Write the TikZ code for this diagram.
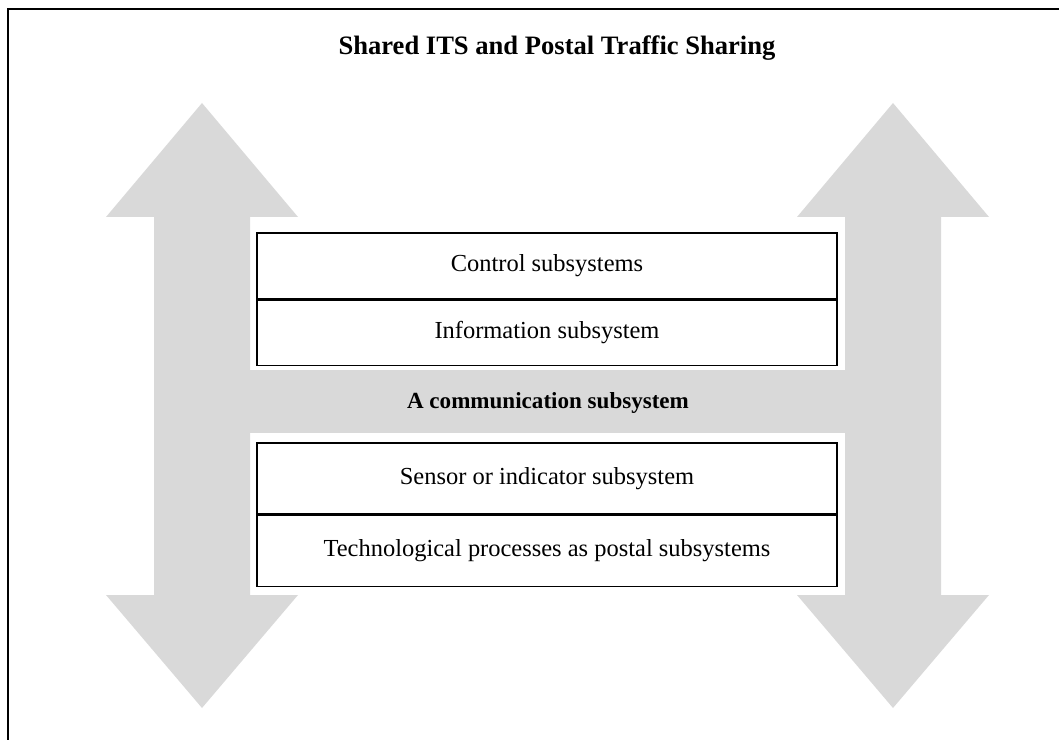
\documentclass[tikz,border=0pt]{standalone}
\usepackage{fontspec}
\setmainfont{Liberation Serif}
\usetikzlibrary{positioning}
\definecolor{ArrowGray}{HTML}{D9D9D9}
\definecolor{Ink}{HTML}{000000}
\begin{document}
\begin{tikzpicture}[x=0.025cm,y=-0.025cm,font=\fontsize{17.4}{20}\selectfont,text=Ink,row/.style={draw=Ink,fill=white,line width=0.9pt,minimum width=14.5cm,inner sep=0pt,align=center},band/.style={fill=ArrowGray,draw=none}]
\useasboundingbox (0,0) rectangle (1059,740);
\draw[Ink,line width=1.5pt] (8,745) -- (8,9) -- (1065,9);
\node[font=\fontsize{18.9}{22}\selectfont\bfseries] (title) at (557,48){Shared ITS and Postal Traffic Sharing};
% two double arrows and the cross band
\foreach \cx in {202,893}{\fill[band] (\cx,103) -- ++(96,114) -- ++(-48,0) -- ++(0,378) -- ++(48,0) -- (\cx,708) -- ++(-96,-113) -- ++(48,0) -- ++(0,-378) -- ++(-48,0) -- cycle;}
\fill[band] (249,370) rectangle (845,433);
\node[row,minimum height=1.65cm] (ctrl) at (547,266){Control subsystems};
\node[row,minimum height=1.625cm,below=0pt of ctrl] (info){Information subsystem};
\node[font=\fontsize{16.4}{19}\selectfont\bfseries] (comm) at (548,403){A communication subsystem};
\node[row,minimum height=1.775cm] (sens) at (547,478.5){Sensor or indicator subsystem};
\node[row,minimum height=1.775cm,below=0pt of sens] (tech){Technological processes as postal subsystems};
\end{tikzpicture}
\end{document}
